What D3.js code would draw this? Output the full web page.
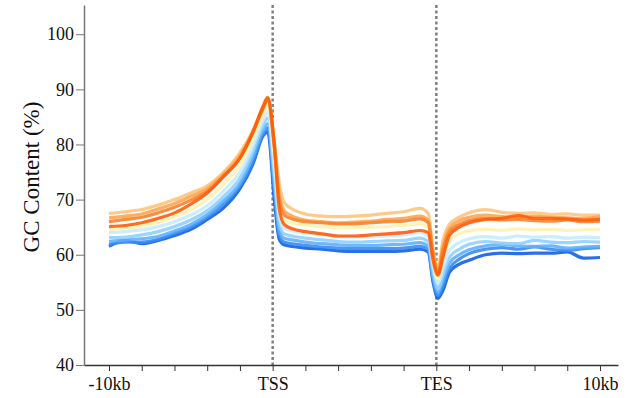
<!DOCTYPE html>
<html>
<head>
<meta charset="utf-8">
<script src="https://cdn.jsdelivr.net/npm/d3@7"></script>
<style>
  body { margin: 0; background: #fff; }
  svg text { font-family: "Liberation Serif", "DejaVu Serif", serif !important; }
</style>
</head>
<body>
<script>
// position along the meta-gene, in bins: 0 = -10kb, 5 = TSS, 10 = TES, 15 = 10kb
var xPos = [0, 0.5, 1, 1.5, 2, 2.5, 3, 3.5, 4, 4.4, 4.7, 4.85, 5.05, 5.2, 5.35, 5.6,
  6, 6.5, 7, 7.5, 8, 8.5, 9, 9.5, 9.75, 9.9, 10.05, 10.2, 10.4, 10.7,
  11, 11.5, 12, 12.5, 13, 13.5, 14, 14.5, 15];

var tickPos = d3.range(0, 16);
var tickNames = {0: "-10kb", 5: "TSS", 10: "TES", 15: "10kb"};
var yTicks = [40, 50, 60, 70, 80, 90, 100];

var seriesA = [67.5, 67.8, 68.2, 69.0, 70.0, 71.2, 72.5, 75.0, 78.5, 82.6, 86.8, 88.6, 80.5, 73.0, 69.5, 68.3,
  67.4, 67.0, 66.9, 67.0, 67.2, 67.5, 67.8, 68.4, 67.5, 61.0, 57.5, 62.5, 65.5, 66.8,
  67.6, 68.2, 67.7, 67.5, 67.6, 67.3, 67.4, 67.2, 67.2];
var seriesB = [66.7, 67.0, 67.4, 68.3, 69.3, 70.6, 72.0, 74.6, 78.0, 82.4, 86.6, 88.2, 80.0, 71.0, 68.0, 67.0,
  66.3, 66.0, 65.8, 65.9, 66.1, 66.4, 66.6, 67.0, 66.3, 60.5, 57.0, 61.5, 64.8, 66.2,
  66.8, 67.2, 66.9, 66.8, 67.0, 66.8, 66.7, 66.6, 66.9];
var seriesC = [66.0, 66.4, 66.8, 67.6, 68.6, 69.9, 71.5, 74.2, 77.6, 82.2, 86.4, 88.0, 79.5, 70.0, 67.2, 66.5,
  66.0, 65.8, 65.6, 65.6, 65.8, 66.0, 66.1, 66.5, 65.8, 60.0, 56.7, 60.8, 64.2, 65.5,
  66.2, 66.6, 66.3, 66.4, 66.2, 66.1, 66.3, 66.0, 66.1];
var seriesD = [65.1, 65.3, 65.8, 66.6, 67.6, 69.2, 71.2, 74.2, 77.5, 82.3, 86.8, 88.5, 80.0, 68.5, 65.5, 64.7,
  64.2, 63.8, 63.4, 63.4, 63.6, 63.8, 64.0, 64.4, 64.0, 59.0, 56.3, 59.5, 63.5, 65.0,
  65.8, 66.4, 66.6, 67.1, 66.6, 66.6, 66.5, 66.3, 66.4];
var seriesE = [64.6, 64.8, 65.2, 65.9, 66.9, 68.2, 70.0, 72.8, 76.2, 81.0, 85.4, 87.0, 78.0, 69.0, 66.3, 65.7,
  65.4, 65.1, 64.9, 64.9, 65.0, 65.1, 65.3, 65.6, 65.0, 59.0, 55.6, 59.0, 62.5, 63.8,
  64.3, 64.6, 64.4, 64.7, 64.5, 64.6, 64.4, 64.5, 64.6];
var seriesF = [64.0, 64.2, 64.5, 65.1, 66.0, 67.2, 68.9, 71.6, 75.0, 79.8, 84.3, 85.8, 76.0, 67.0, 64.8, 64.3,
  63.9, 63.6, 63.3, 63.2, 63.3, 63.4, 63.6, 64.0, 63.4, 58.0, 54.8, 57.5, 60.8, 62.2,
  62.9, 63.3, 63.0, 63.4, 63.2, 63.3, 63.0, 63.2, 63.1];
var seriesG = [63.1, 63.2, 63.6, 64.2, 65.1, 66.3, 68.0, 70.6, 73.9, 78.8, 83.4, 84.8, 74.5, 65.5, 63.8, 63.4,
  63.0, 62.7, 62.4, 62.3, 62.4, 62.5, 62.6, 63.0, 62.4, 57.0, 53.8, 56.3, 59.5, 61.0,
  61.9, 62.4, 62.1, 62.0, 62.6, 62.3, 62.2, 62.4, 62.3];
var seriesH = [62.4, 62.7, 62.9, 63.3, 64.3, 65.5, 67.3, 69.8, 73.0, 77.8, 82.5, 83.8, 73.0, 64.5, 63.0, 62.7,
  62.3, 62.0, 61.8, 61.7, 61.7, 61.8, 61.9, 62.2, 61.6, 56.0, 53.2, 55.3, 58.5, 60.0,
  60.9, 61.6, 61.9, 61.6, 61.5, 61.6, 61.2, 61.4, 61.5];
var seriesI = [61.9, 62.3, 62.3, 62.8, 63.9, 65.0, 66.8, 69.2, 72.5, 77.0, 81.8, 83.0, 71.5, 63.5, 62.3, 62.0,
  61.7, 61.4, 61.2, 61.1, 61.1, 61.1, 61.2, 61.5, 61.0, 55.5, 52.6, 54.5, 57.5, 59.2,
  60.2, 61.0, 61.3, 61.0, 61.4, 61.0, 60.8, 61.1, 61.3];
var seriesJ = [61.5, 62.6, 62.0, 62.6, 63.5, 64.6, 66.4, 68.5, 72.0, 76.5, 81.5, 82.3, 70.0, 62.8, 61.8, 61.5,
  61.2, 61.0, 60.7, 60.6, 60.6, 60.6, 60.7, 61.0, 60.5, 55.0, 52.1, 53.5, 56.8, 58.3,
  59.0, 60.0, 60.3, 60.2, 60.3, 60.3, 60.5, 59.4, 59.5];

var allSeries = [seriesJ, seriesI, seriesH, seriesG, seriesF, seriesE, seriesA, seriesB, seriesC, seriesD];
var colors = ["#1160e6", "#3a8cf2", "#5eb0fc", "#90d0ff", "#c4ecff", "#fff2b0", "#fdc47c", "#fca552", "#f7822e", "#ff5c0a"];

var svgWidth = 641;
var svgHeight = 398;

var svg = d3.select("body")
  .append("svg")
  .attr("width", svgWidth)
  .attr("height", svgHeight);

// scales (domain padded so the axis lines run past the first/last tick)
var x = d3.scaleLinear().domain([-0.764, 15.55]).range([84, 618]);
var y = d3.scaleLinear().domain([40, 105.3]).range([365, 5]);

// dotted markers at TSS and TES
[5, 10].forEach(function (p) {
  svg.append("line")
    .attr("x1", x(p)).attr("x2", x(p))
    .attr("y1", y(105.3)).attr("y2", y(40))
    .attr("stroke", "#808080")
    .attr("stroke-width", 2.5)
    .attr("stroke-dasharray", "3,2.5");
});

var line = d3.line()
  .x(function (d, i) { return x(xPos[i]); })
  .y(function (d) { return y(d); })
  .curve(d3.curveMonotoneX);

svg.append("g").selectAll("path")
  .data(allSeries)
  .enter()
  .append("path")
  .attr("d", line)
  .attr("fill", "none")
  .attr("stroke", function (d, i) { return colors[i]; })
  .attr("stroke-width", 3.2)
  .attr("stroke-linejoin", "round")
  .attr("opacity", 0.9);

// axes
var bottomAxis = d3.axisBottom(x)
  .tickValues(tickPos)
  .tickSize(6)
  .tickPadding(6)
  .tickSizeOuter(0)
  .tickFormat(function (d) { return tickNames[d] || ""; });

var leftAxis = d3.axisLeft(y)
  .tickValues(yTicks)
  .tickSize(8)
  .tickPadding(2)
  .tickSizeOuter(0);

var gx = svg.append("g")
  .attr("transform", "translate(0," + y(40) + ")")
  .attr("font-family", "Liberation Serif")
  .call(bottomAxis);
gx.select(".domain").attr("stroke", "#333").attr("stroke-width", 1.5);
gx.selectAll(".tick line").attr("stroke", "#333");
gx.selectAll("text").attr("font-size", 18).attr("fill", "#111");

var gy = svg.append("g")
  .attr("transform", "translate(" + x(-0.764) + ",0)")
  .call(leftAxis);
gy.attr("font-family", "Liberation Serif");
gy.select(".domain").attr("stroke", "#777").attr("stroke-width", 1.5);
gy.selectAll(".tick line").attr("stroke", "#777");
gy.selectAll("text").attr("font-size", 18).attr("fill", "#111");

svg.append("text")
  .attr("transform", "translate(39,177) rotate(-90)")
  .attr("text-anchor", "middle")
  .attr("font-family", "Liberation Serif")
  .attr("font-size", 23)
  .attr("fill", "#111")
  .text("GC Content (%)");
</script>
</body>
</html>
